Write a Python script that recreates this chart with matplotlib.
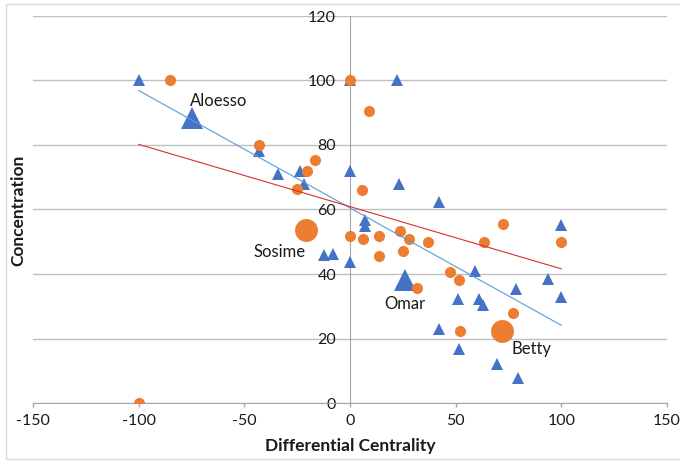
import matplotlib.pyplot as plt
from matplotlib.patches import Rectangle

plt.rcParams['font.family'] = ['Lato', 'DejaVu Sans']
plt.rcParams['axes.unicode_minus'] = False

# blue series (triangles)
tri_x = [-100, -43, -34, -23.5, -21.6, 0, 22.2, 0, 23, 42, 100, 7, 7, 0, -12.4, -8.1,
         59.2, 93.7, 78.6, 100, 51.3, 60.9, 62.8, 42.1, 51.4, 69.4, 79.4]
tri_y = [100, 78, 71, 72, 68, 100, 100, 72, 68, 62.4, 55.2, 56.7, 54.9, 43.7, 45.8, 46.1,
         41, 38.5, 35.5, 33, 32.4, 32.2, 30.3, 22.9, 16.7, 12, 7.9]

# orange series (circles)
dot_x = [-85, -43, -16.4, -20.3, -25.2, 0, 8.9, 5.6, 72.6, 0, 6.2, 13.8, 13.7, 23.6,
         27.7, 25.2, 37, 31.5, 100, 63.6, 47.2, 51.7, 77.2, 52.2, -100]
dot_y = [100, 80, 75.4, 72, 66.4, 100, 90.4, 66, 55.5, 51.9, 50.9, 51.7, 45.6, 53.2,
         50.9, 47, 49.9, 35.8, 49.9, 49.9, 40.7, 38, 28, 22.4, 0]

# named people, drawn larger
big_tri_names = ['Aloesso', 'Omar']
big_tri_x = [-75, 26]
big_tri_y = [88.4, 38.1]
big_dot_names = ['Sosime', 'Betty']
big_dot_x = [-20.6, 72]
big_dot_y = [53.6, 22.4]

# linear trendlines
trend_x = [-100, 100]
tri_trend = [96.9, 24.1]
dot_trend = [80.2, 41.6]

blue = '#4472C4'
orange = '#ED7D31'

fig = plt.figure(figsize=(6.8, 4.61), dpi=100)
ax = fig.add_axes([33 / 680, 1 - 403 / 461, 634 / 680, 387 / 461])

ax.plot(tri_x, tri_y, '^', color=blue, ms=8, mew=0, zorder=3)
ax.plot(big_tri_x, big_tri_y, '^', color=blue, ms=16.5, mew=0, zorder=3)
ax.plot(dot_x, dot_y, 'o', color=orange, ms=8, mew=0, zorder=4)
ax.plot(big_dot_x, big_dot_y, 'o', color=orange, ms=16.5, mew=0, zorder=4)

ax.plot(trend_x, tri_trend, color='#5B9BD5', lw=0.8, zorder=5)
ax.plot(trend_x, dot_trend, color='#D9302B', lw=0.8, zorder=5)

lab = dict(fontsize=12, color='#1a1a1a', va='center')
ax.text(-75.6, 93.7, big_tri_names[0], ha='left', **lab)
ax.text(26, 30.7, big_tri_names[1], ha='center', **lab)
ax.text(-21.1, 46.9, big_dot_names[0], ha='right', **lab)
ax.text(76.4, 16.6, big_dot_names[1], ha='left', **lab)

ax.set_xlim(-150, 150)
ax.set_ylim(0, 120)
ax.set_xticks(range(-150, 151, 50))
ax.set_yticks(range(0, 121, 20))
ax.grid(axis='y', color='#BFBFBF', lw=1)
ax.set_axisbelow(True)

for s in ['top', 'right']:
    ax.spines[s].set_visible(False)
ax.spines['left'].set_position(('data', 0))
ax.spines['bottom'].set_position(('data', 0))
ax.spines['left'].set_color('#A6A6A6')
ax.spines['bottom'].set_color('#A6A6A6')
ax.tick_params(axis='x', direction='out', length=3, width=1, color='#A6A6A6',
               pad=5, labelsize=11.5, labelcolor='#1a1a1a')
ax.tick_params(axis='y', length=0, pad=10, labelsize=11.5, labelcolor='#1a1a1a')

fig.text(350 / 680, 1 - 446 / 461, 'Differential Centrality', ha='center', va='center',
         fontsize=12.5, fontweight='bold', color='#1a1a1a')
fig.text(18 / 680, 1 - 210 / 461, 'Concentration', ha='center', va='center',
         rotation=90, fontsize=12.5, fontweight='bold', color='#1a1a1a')

fig.patches.append(Rectangle((6 / 680, 2 / 461), 1, 1 - 6 / 461, transform=fig.transFigure,
                             fill=False, ec='#D9D9D9', lw=1))

fig.savefig('out.png', dpi=100)
